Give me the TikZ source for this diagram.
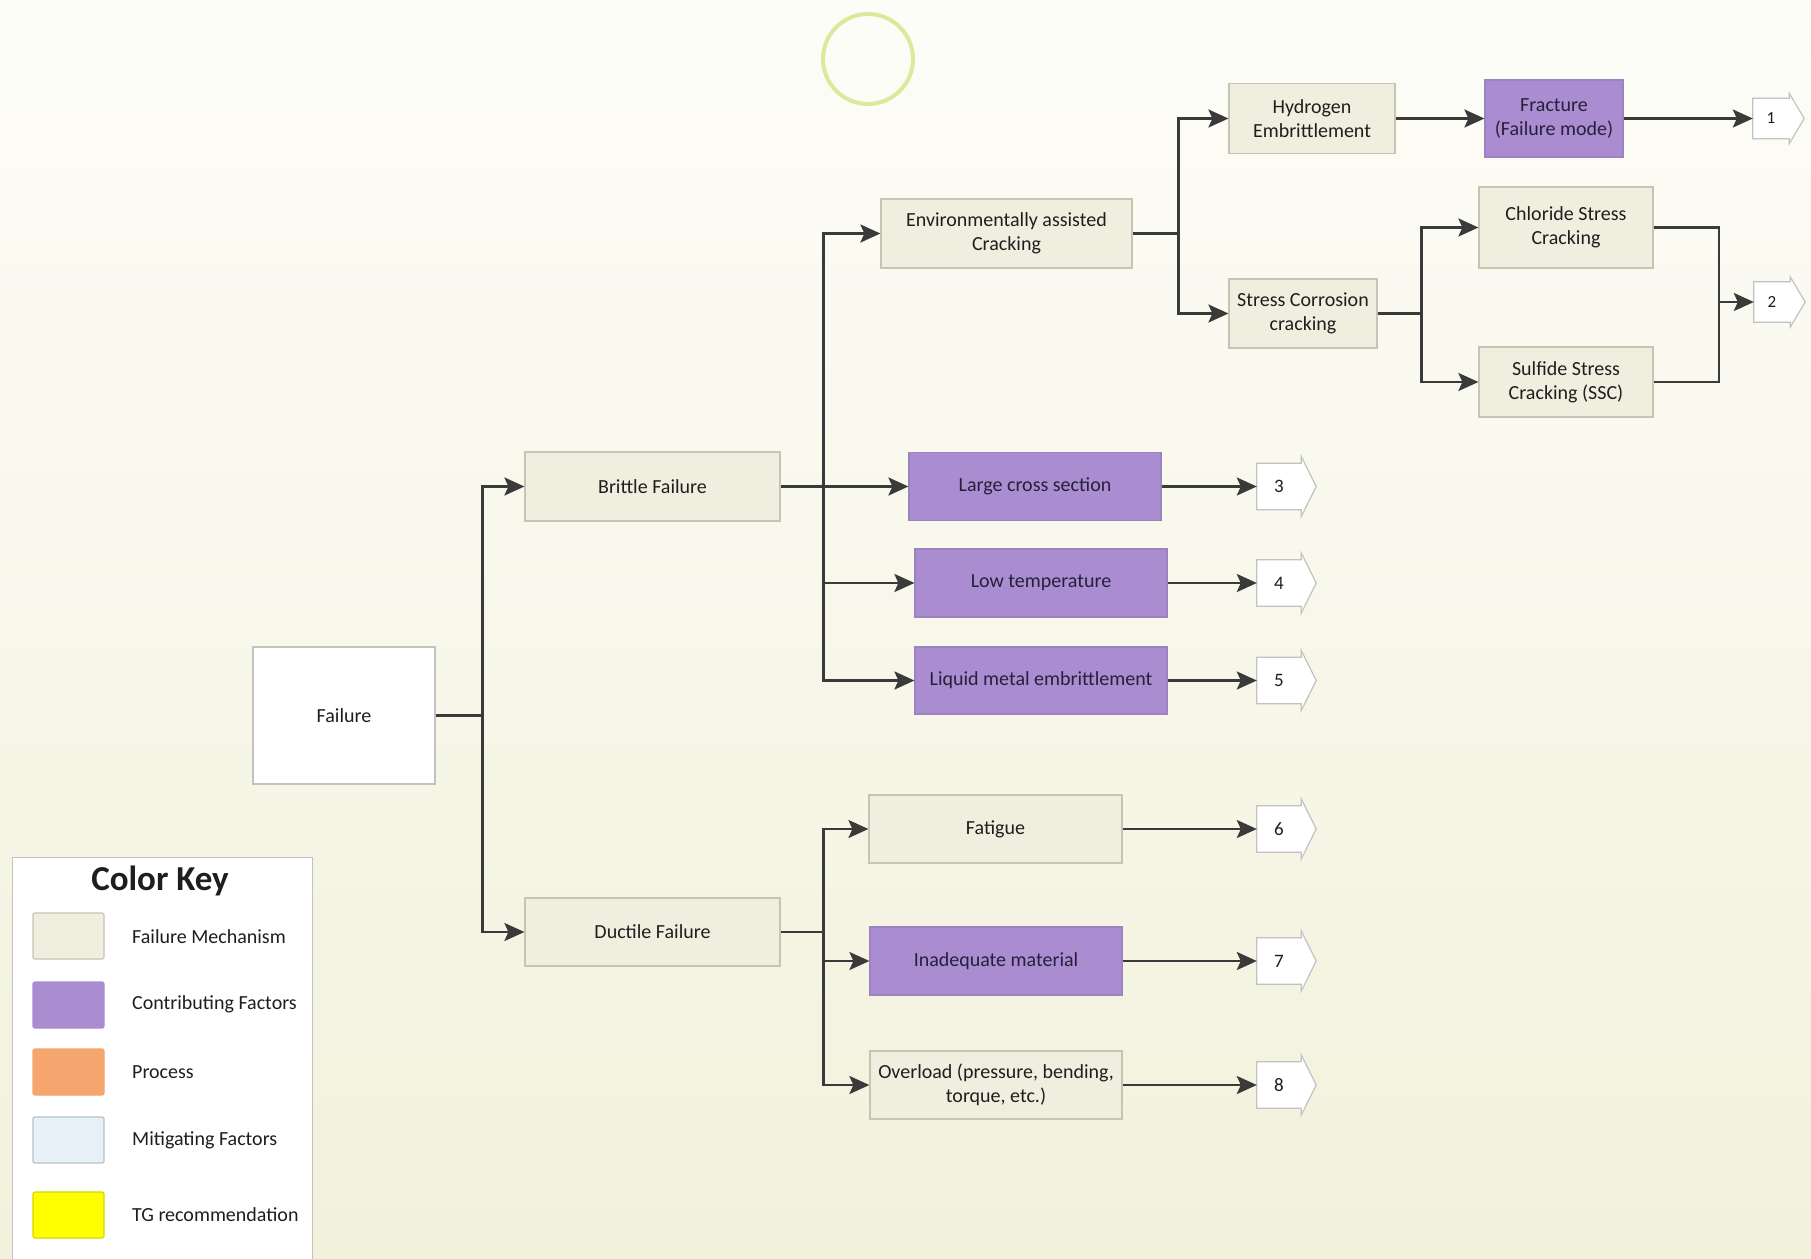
\documentclass[tikz,border=0pt]{standalone}
\usepackage{fontspec}
\setmainfont{Carlito}
\usetikzlibrary{arrows.meta,calc}

\definecolor{bgtop}{HTML}{FDFDF8}
\definecolor{bgbot}{HTML}{F2F1DC}
\definecolor{mechfill}{HTML}{F0EFDF}
\definecolor{mechline}{HTML}{C6C5B4}
\definecolor{factfill}{HTML}{A98DD0}
\definecolor{factline}{HTML}{9C82C0}
\definecolor{wirecol}{HTML}{3A3A3A}
\definecolor{inkcol}{HTML}{1E1E1E}
\definecolor{greyline}{HTML}{C2C2C2}
\definecolor{ringcol}{HTML}{DCE89A}
\definecolor{procfill}{HTML}{F5A66E}
\definecolor{mitfill}{HTML}{E6F1F7}
\definecolor{mitline}{HTML}{B9C2C7}
\definecolor{tgfill}{HTML}{FFFF00}
\definecolor{tgline}{HTML}{D6D600}

\pgfdeclarelayer{paper}
\pgfdeclarelayer{under}
\pgfsetlayers{paper,under,main}

\tikzset{
  box/.style={draw, line width=1.2pt, inner sep=2pt, align=center,
    text=inkcol, font=\fontsize{20}{24}\selectfont},
  mech/.style={box, fill=mechfill, draw=mechline},
  fact/.style={box, fill=factfill, draw=factline, text={rgb,255:red,38;green,32;blue,58}},
  plain/.style={box, fill=white, draw=greyline},
  numbig/.style={minimum width=44pt, minimum height=46pt, inner sep=0pt,
    text=inkcol, font=\fontsize{19}{22}\selectfont},
  numsmall/.style={minimum width=36pt, minimum height=40pt, inner sep=0pt,
    text=inkcol, font=\fontsize{17}{20}\selectfont},
  wire/.style={draw=wirecol, line width=2.6pt},
  arr/.style={wire, -{Stealth[length=20pt,width=18pt,inset=4pt]}},
  tagline/.style={draw=greyline, line width=1.2pt, fill=white, line join=miter},
  swatch/.style={minimum width=71pt, minimum height=46pt, inner sep=0pt,
    rounded corners=2pt, line width=1.2pt},
  keylabel/.style={anchor=west, inner sep=0pt, text=inkcol,
    font=\fontsize{20}{24}\selectfont}
}

% off-page tag outline: box with a pointed right end
\newcommand\tagshape[2]{%
  \draw[tagline] (#1.south west) -- (#1.north west) -- (#1.north east)
    -- ++(0pt,#2) -- ($(#1.east)+(15pt,0pt)$) -- ($(#1.south east)+(0pt,-#2)$)
    -- (#1.south east) -- cycle;}

\begin{document}
\begin{tikzpicture}[x=1pt,y=-1pt]
\useasboundingbox (0,0) rectangle (1811,1258);
\clip (0,0) rectangle (1811,1258);
\begin{pgfonlayer}{paper}
  \shade[top color=bgtop, bottom color=bgbot] (0,0) rectangle (1811,1258);
\end{pgfonlayer}

% marker ring
\draw[ringcol, line width=4pt] (868,59) circle[radius=45];

% main tree
\node[plain, minimum width=182pt, minimum height=137pt] (failure) at (344,715.5) {Failure};
\node[mech, minimum width=255pt, minimum height=69pt] (brittle) at (652.5,486.5) {Brittle Failure};
\node[mech, minimum width=255pt, minimum height=68pt] (ductile) at (652.5,932) {Ductile Failure};

\node[mech, minimum width=251pt, minimum height=69pt] (env) at (1006.5,233.5) {Environmentally assisted\\Cracking};
\node[mech, minimum width=166pt, minimum height=70pt] (hydro) at (1312,118.5) {Hydrogen\\Embrittlement};
\node[fact, minimum width=138pt, minimum height=77pt] (fracture) at (1554,118.5) {Fracture\\(Failure mode)};
\node[mech, minimum width=148pt, minimum height=69pt] (scc) at (1303,313.5) {Stress Corrosion\\cracking};
\node[mech, minimum width=174pt, minimum height=81pt] (chloride) at (1566,227.5) {Chloride Stress\\Cracking};
\node[mech, minimum width=174pt, minimum height=70pt] (sulfide) at (1566,382) {Sulfide Stress\\Cracking (SSC)};

\node[fact, minimum width=252pt, minimum height=68pt] (large) at (1035,486.5) {Large cross section};
\node[fact, minimum width=252pt, minimum height=68pt] (lowt) at (1041,583) {Low temperature};
\node[fact, minimum width=252pt, minimum height=67pt] (liquid) at (1041,680.5) {Liquid metal embrittlement};

\node[mech, minimum width=253pt, minimum height=68pt] (fatigue) at (995.5,829) {Fatigue};
\node[fact, minimum width=252pt, minimum height=68pt] (inadeq) at (996,961) {Inadequate material};
\node[mech, minimum width=252pt, minimum height=68pt] (overload) at (996,1085) {Overload (pressure, bending,\\torque, etc.)};

% off-page tags
\node[numsmall] (n1) at (1771,118.5) {1};
\node[numsmall] (n2) at (1772,302) {2};
\node[numbig] (n3) at (1279,486.5) {3};
\node[numbig] (n4) at (1279,583) {4};
\node[numbig] (n5) at (1279,680.5) {5};
\node[numbig] (n6) at (1279,829) {6};
\node[numbig] (n7) at (1279,961) {7};
\node[numbig] (n8) at (1279,1085) {8};
\begin{pgfonlayer}{under}
  \tagshape{n1}{5pt}
  \tagshape{n2}{5pt}
  \foreach \t in {n3,n4,n5,n6,n7,n8} {\tagshape{\t}{7pt}}
\end{pgfonlayer}

% connectors
\draw[wire] (failure.east) -- ++(47,0) coordinate (jf);
\draw[arr] (jf) |- (brittle.west);
\draw[arr] (jf) |- (ductile.west);

\draw[wire] (brittle.east) -- ++(43,0) coordinate (jb);
\draw[arr] (jb) |- (env.west);
\draw[arr] (jb) -- (large.west);
\draw[arr] (jb) |- (lowt.west);
\draw[arr] (jb) |- (liquid.west);

\draw[wire] (ductile.east) -- ++(43,0) coordinate (jd);
\draw[arr] (jd) |- (fatigue.west);
\draw[arr] (jd) |- (inadeq.west);
\draw[arr] (jd) |- (overload.west);

\draw[wire] (env.east) -- ++(46,0) coordinate (je);
\draw[arr] (je) |- (hydro.west);
\draw[arr] (je) |- (scc.west);
\draw[arr] (hydro.east) -- (fracture.west);
\draw[arr] (fracture.east) -- (n1.west);

\draw[wire] (scc.east) -- ++(44,0) coordinate (js);
\draw[arr] (js) |- (chloride.west);
\draw[arr] (js) |- (sulfide.west);

\coordinate (jm) at (1719,302);
\draw[wire] (chloride.east) -| (jm) |- (sulfide.east);
\draw[arr] (jm) -- (n2.west);

\draw[arr] (large.east) -- (n3.west);
\draw[arr] (lowt.east) -- (n4.west);
\draw[arr] (liquid.east) -- (n5.west);
\draw[arr] (fatigue.east) -- (n6.west);
\draw[arr] (inadeq.east) -- (n7.west);
\draw[arr] (overload.east) -- (n8.west);

% colour key
\node[draw=greyline, fill=white, line width=1.2pt, minimum width=300pt,
  minimum height=420pt, anchor=north west] (keybox) at (12,857) {};
\node[text=inkcol, font=\fontsize{35}{40}\bfseries\selectfont] (keytitle) at (160,881) {Color Key};
\node[swatch, fill=mechfill, draw=mechline] (s1) at (68.5,936) {};
\node[swatch, fill=factfill, draw=factfill] (s2) at (68.5,1005) {};
\node[swatch, fill=procfill, draw=procfill] (s3) at (68.5,1072) {};
\node[swatch, fill=mitfill, draw=mitline] (s4) at (68.5,1140) {};
\node[swatch, fill=tgfill, draw=tgline] (s5) at (68.5,1215) {};
\node[keylabel] (l1) at (132,937) {Failure Mechanism};
\node[keylabel] (l2) at (132,1004) {Contributing Factors};
\node[keylabel] (l3) at (132,1072) {Process};
\node[keylabel] (l4) at (132,1140) {Mitigating Factors};
\node[keylabel] (l5) at (132,1215) {TG recommendation};
\end{tikzpicture}
\end{document}
